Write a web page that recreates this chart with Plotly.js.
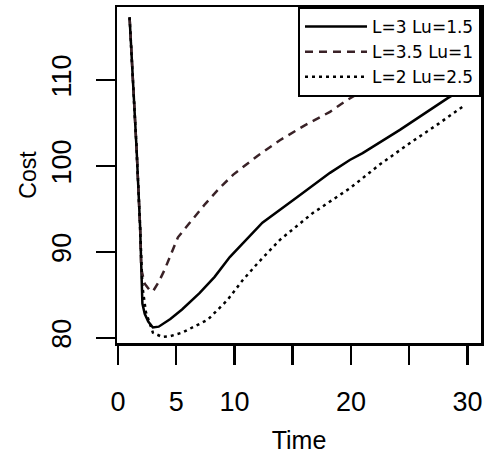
<!DOCTYPE html>
<html>
<head>
<meta charset="utf-8">
<script src="https://cdn.plot.ly/plotly-3.0.1.min.js"></script>
<style>html,body{margin:0;padding:0;background:#fff}#chart{width:485px;height:455px}</style>
</head>
<body>
<div id="chart"></div>
<script>
// Series names
const seriesNames = ["L=3 Lu=1.5", "L=3.5 Lu=1", "L=2 Lu=2.5"];

// Series 1: L=3 Lu=1.5 (solid)
const time1 = [1, 1.3, 1.6, 1.9, 2.0, 2.1, 2.3, 2.6, 3.0, 3.5, 4.5, 5.5, 7, 8.3, 9.6, 10.6, 12.4, 15.4, 18.2, 19.9, 21, 24.2, 26, 28.3, 30];
const cost1 = [117.3, 110, 102, 93, 88, 84, 82.8, 81.9, 81.2, 81.3, 82.2, 83.3, 85.2, 87.1, 89.4, 90.8, 93.4, 96.4, 99.2, 100.7, 101.5, 104.2, 105.8, 107.9, 109.3];

// Series 2: L=3.5 Lu=1 (dashed)
const time2 = [1, 1.3, 1.6, 1.9, 2.0, 2.3, 2.7, 3.0, 3.5, 4.0, 5.15, 6.35, 7.5, 8.7, 9.9, 12, 13.9, 16, 18.2, 19.7, 22, 25, 28, 30];
const cost2 = [117.3, 110, 102, 93, 88, 86.3, 85.6, 85.4, 86.5, 87.9, 91.7, 93.7, 95.6, 97.4, 99.0, 101.2, 103.0, 104.7, 106.3, 107.7, 109.5, 112, 114.3, 115.8];

// Series 3: L=2 Lu=2.5 (dotted)
const time3 = [1, 1.3, 1.6, 1.9, 2.1, 2.4, 2.8, 3.0, 3.8, 4.5, 5.5, 7.7, 9.4, 10.7, 12, 13.9, 16.7, 19.9, 22.5, 25.1, 27.5, 29.8];
const cost3 = [117.3, 110, 102, 93, 86, 83, 81.2, 80.6, 80.1, 80.2, 80.6, 82.1, 84.4, 86.7, 88.7, 91.4, 94.5, 97.4, 100.2, 102.7, 104.9, 107.1];

// Tick values
const xTicks = [0, 5, 10, 15, 20, 25, 30];
const xTickLabels = ["0", "5", "10", "", "20", "", "30"];
const yTicks = [80, 90, 100, 110];
const yTickLabels = ["80", "90", "100", "110"];

const FONT = "Liberation Sans, Arial, sans-serif";
const LEGFONT = "DejaVu Sans, sans-serif";

const traces = [
  {x: time1, y: cost1, name: seriesNames[0], mode: "lines",
   line: {color: "#000000", width: 2.5}},
  {x: time2, y: cost2, name: seriesNames[1], mode: "lines",
   line: {color: "#3a2227", width: 2.5, dash: "8px,6px"}},
  {x: time3, y: cost3, name: seriesNames[2], mode: "lines",
   line: {color: "#000000", width: 2.5, dash: "3px,4px"}}
];

const layout = {
  width: 485, height: 455,
  margin: {l: 117, r: 4, t: 7, b: 112},
  paper_bgcolor: "#ffffff", plot_bgcolor: "#ffffff",
  font: {family: FONT, color: "#000"},
  showlegend: true,
  legend: {
    x: 1, y: 1, xanchor: "right", yanchor: "top",
    bgcolor: "#ffffff", bordercolor: "#000", borderwidth: 2,
    font: {family: LEGFONT, size: 17, color: "#000"},
    tracegroupgap: 0, itemwidth: 62
  },
  xaxis: {
    range: [-0.08, 31.16], tickmode: "array", tickvals: xTicks, ticktext: xTickLabels,
    showgrid: false, zeroline: false, showline: true, mirror: true,
    linecolor: "#000", linewidth: 2.5, ticks: "outside", ticklen: 19, tickwidth: 2.5, tickcolor: "#000",
    tickfont: {family: FONT, size: 27, color: "#000"}, ticklabelstandoff: 14,
    title: {text: "Time", font: {family: FONT, size: 25, color: "#000"}, standoff: 16}
  },
  yaxis: {
    range: [79.4, 118.5], tickmode: "array", tickvals: yTicks, ticktext: yTickLabels,
    showgrid: false, zeroline: false, showline: true, mirror: true,
    linecolor: "#000", linewidth: 2.5, ticks: "outside", ticklen: 19, tickwidth: 2.5, tickcolor: "#000",
    tickangle: -90,
    tickfont: {family: FONT, size: 27, color: "#000"}, ticklabelstandoff: 14,
    title: {text: "Cost", font: {family: FONT, size: 23, color: "#000"}, standoff: 4}
  }
};

Plotly.newPlot("chart", traces, layout, {displayModeBar: false, staticPlot: true});
</script>
</body>
</html>
